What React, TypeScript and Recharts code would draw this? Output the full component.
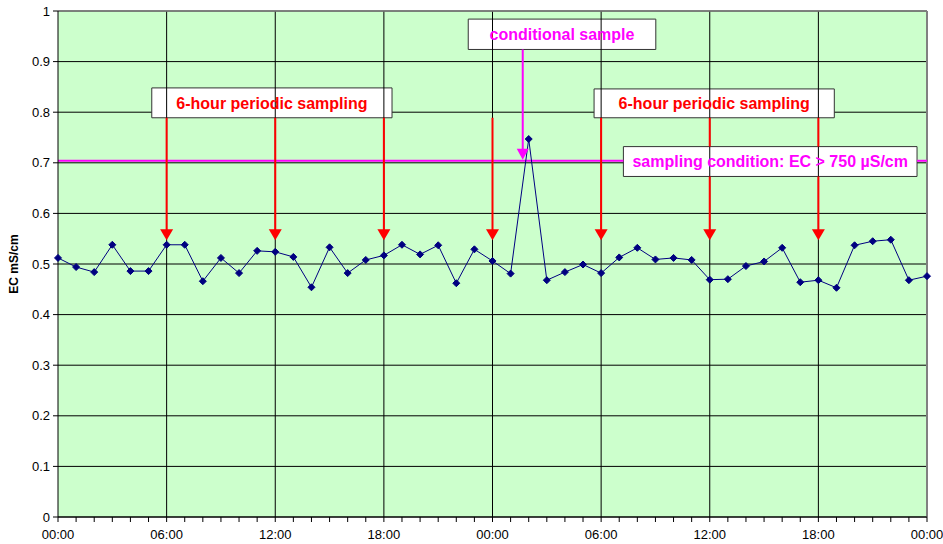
import React from 'react';
import {
  ComposedChart,
  Line,
  Scatter,
  XAxis,
  YAxis,
  CartesianGrid,
  ReferenceLine,
  ReferenceArea,
} from 'recharts';

// EC readings, one per hour over two days (mS/cm)
const ecValues = [
  0.512, 0.494, 0.484, 0.538, 0.486, 0.486, 0.538, 0.538, 0.466, 0.512, 0.482, 0.526,
  0.524, 0.514, 0.454, 0.533, 0.482, 0.508, 0.517, 0.538, 0.519, 0.537, 0.462, 0.529,
  0.506, 0.481, 0.747, 0.468, 0.484, 0.499, 0.482, 0.513, 0.532, 0.509, 0.512, 0.508,
  0.469, 0.47, 0.496, 0.505, 0.532, 0.464, 0.468, 0.453, 0.537, 0.545, 0.548, 0.468,
  0.476,
];

const hourTicks = [
  0, 1, 2, 3, 4, 5, 6, 7, 8, 9, 10, 11, 12, 13, 14, 15, 16, 17, 18, 19, 20, 21, 22, 23, 24,
  25, 26, 27, 28, 29, 30, 31, 32, 33, 34, 35, 36, 37, 38, 39, 40, 41, 42, 43, 44, 45, 46, 47, 48,
];
const gridHours = [6, 12, 18, 24, 30, 36, 42];
const yTicks = [0, 0.1, 0.2, 0.3, 0.4, 0.5, 0.6, 0.7, 0.8, 0.9, 1];

// periodic sampling arrows (hour of sampling)
const periodicHours = [6, 12, 18, 24, 30, 36, 42];
const arrowTop = 0.789;
const arrowTip = 0.547;

// conditional sample
const conditionLevel = 0.704;
const conditionalHour = 25.67;
const conditionalTip = 0.706;

// annotation boxes: [x1, x2, y1, y2] in hours / mS/cm
const periodicBoxA = [5.18, 18.45, 0.789, 0.848];
const periodicBoxB = [29.61, 42.88, 0.789, 0.846];
const conditionalBox = [22.66, 33.02, 0.924, 0.984];
const conditionBox = [31.23, 47.45, 0.673, 0.732];

const rows = ecValues.map((v, i) => ({ hour: i, ec: v }));
const redTips = periodicHours.map((h) => ({ hour: h, tip: arrowTip }));
const magentaTips = [{ hour: conditionalHour, tip: conditionalTip }];

const NAVY = '#000080';
const RED = '#FF0000';
const MAGENTA = '#FF00FF';
const FONT = '"Liberation Sans", Arial, sans-serif';

const fmtHour = (h: number) => `${String(h % 24).padStart(2, '0')}:00`;

// arrow shafts, cut where the threshold label box covers them
const shaftParts = (h: number): [number, number][] => {
  const bottom = arrowTip + 0.015;
  if (h > conditionBox[0] && h < conditionBox[1]) {
    return [
      [arrowTop, conditionBox[3]],
      [conditionBox[2], bottom],
    ];
  }
  return [[arrowTop, bottom]];
};

function HourTick(props: any) {
  const { x, y, payload } = props;
  if (payload.value % 6 !== 0) return null;
  return (
    <text x={x} y={y + 15} textAnchor="middle" fontSize={13} fill="#000" fontFamily={FONT}>
      {fmtHour(payload.value)}
    </text>
  );
}

function Diamond(props: any) {
  const { cx, cy } = props;
  if (cx == null || cy == null) return null;
  return (
    <polygon
      points={`${cx},${cy - 3.5} ${cx + 3.5},${cy} ${cx},${cy + 3.5} ${cx - 3.5},${cy}`}
      fill={NAVY}
      stroke={NAVY}
    />
  );
}

const headShape = (color: string, w: number, h: number) => (props: any) => {
  const { cx, cy } = props;
  return (
    <polygon points={`${cx},${cy} ${cx - w / 2},${cy - h} ${cx + w / 2},${cy - h}`} fill={color} />
  );
};

const box = (b: number[], text: string, color: string) => (
  <ReferenceArea
    x1={b[0]}
    x2={b[1]}
    y1={b[2]}
    y2={b[3]}
    fill="#fff"
    fillOpacity={1}
    stroke="#333"
    strokeWidth={1}
    label={{
      value: text,
      position: 'center',
      fill: color,
      fontSize: 16,
      fontWeight: 'bold',
      fontFamily: FONT,
    }}
  />
);

export default function App() {
  return (
    <div style={{ position: 'absolute', left: 0, top: 0, fontFamily: FONT, background: '#fff' }}>
      <ComposedChart
        width={943}
        height={544}
        data={rows}
        margin={{ top: 11, right: 16, left: 0, bottom: 0 }}
      >
        <CartesianGrid vertical={false} stroke="#000" fill="#CCFFCC" fillOpacity={1} />
        <XAxis
          type="number"
          dataKey="hour"
          domain={[0, 48]}
          ticks={hourTicks}
          interval={0}
          tick={<HourTick />}
          tickSize={5}
          height={27}
          stroke="#000"
        />
        <YAxis
          type="number"
          domain={[0, 1]}
          ticks={yTicks}
          interval={0}
          tickFormatter={(v: number) => (v === 0 || v === 1 ? String(v) : v.toFixed(1))}
          tick={{ fontSize: 13, fill: '#000', fontFamily: FONT }}
          tickSize={5}
          tickMargin={3}
          width={58}
          stroke="#000"
          label={{
            value: 'EC mS/cm',
            angle: -90,
            position: 'center',
            dx: -15,
            style: { fontSize: 12, fontWeight: 'bold', fill: '#000', fontFamily: FONT },
          }}
        />
        {gridHours.map((h) => (
          <ReferenceLine key={`g${h}`} x={h} stroke="#000" strokeWidth={1} />
        ))}
        <ReferenceLine y={1} stroke="#808080" strokeWidth={1.5} />
        <ReferenceLine x={48} stroke="#808080" strokeWidth={2} />

        {/* threshold line, interrupted where its label box sits */}
        <ReferenceLine
          segment={[
            { x: 0, y: conditionLevel },
            { x: conditionBox[0], y: conditionLevel },
          ]}
          stroke={MAGENTA}
          strokeWidth={2}
        />
        <ReferenceLine
          segment={[
            { x: conditionBox[1], y: conditionLevel },
            { x: 48, y: conditionLevel },
          ]}
          stroke={MAGENTA}
          strokeWidth={2}
        />

        {periodicHours.flatMap((h) =>
          shaftParts(h).map(([top, bottom], k) => (
            <ReferenceLine
              key={`a${h}-${k}`}
              segment={[
                { x: h, y: top },
                { x: h, y: bottom },
              ]}
              stroke={RED}
              strokeWidth={2}
            />
          )),
        )}
        <ReferenceLine
          segment={[
            { x: conditionalHour, y: conditionalBox[2] },
            { x: conditionalHour, y: conditionalTip + 0.015 },
          ]}
          stroke={MAGENTA}
          strokeWidth={2}
        />
        <Scatter
          data={redTips}
          dataKey="tip"
          shape={headShape(RED, 13, 11)}
          isAnimationActive={false}
          legendType="none"
        />
        <Scatter
          data={magentaTips}
          dataKey="tip"
          shape={headShape(MAGENTA, 12, 11)}
          isAnimationActive={false}
          legendType="none"
        />

        <Line
          type="linear"
          dataKey="ec"
          stroke={NAVY}
          strokeWidth={1}
          dot={<Diamond />}
          activeDot={false}
          isAnimationActive={false}
        />

        {box(periodicBoxA, '6-hour periodic sampling', RED)}
        {box(periodicBoxB, '6-hour periodic sampling', RED)}
        {box(conditionalBox, 'conditional sample', MAGENTA)}
        {box(conditionBox, 'sampling condition: EC > 750 µS/cm', MAGENTA)}
      </ComposedChart>
    </div>
  );
}
